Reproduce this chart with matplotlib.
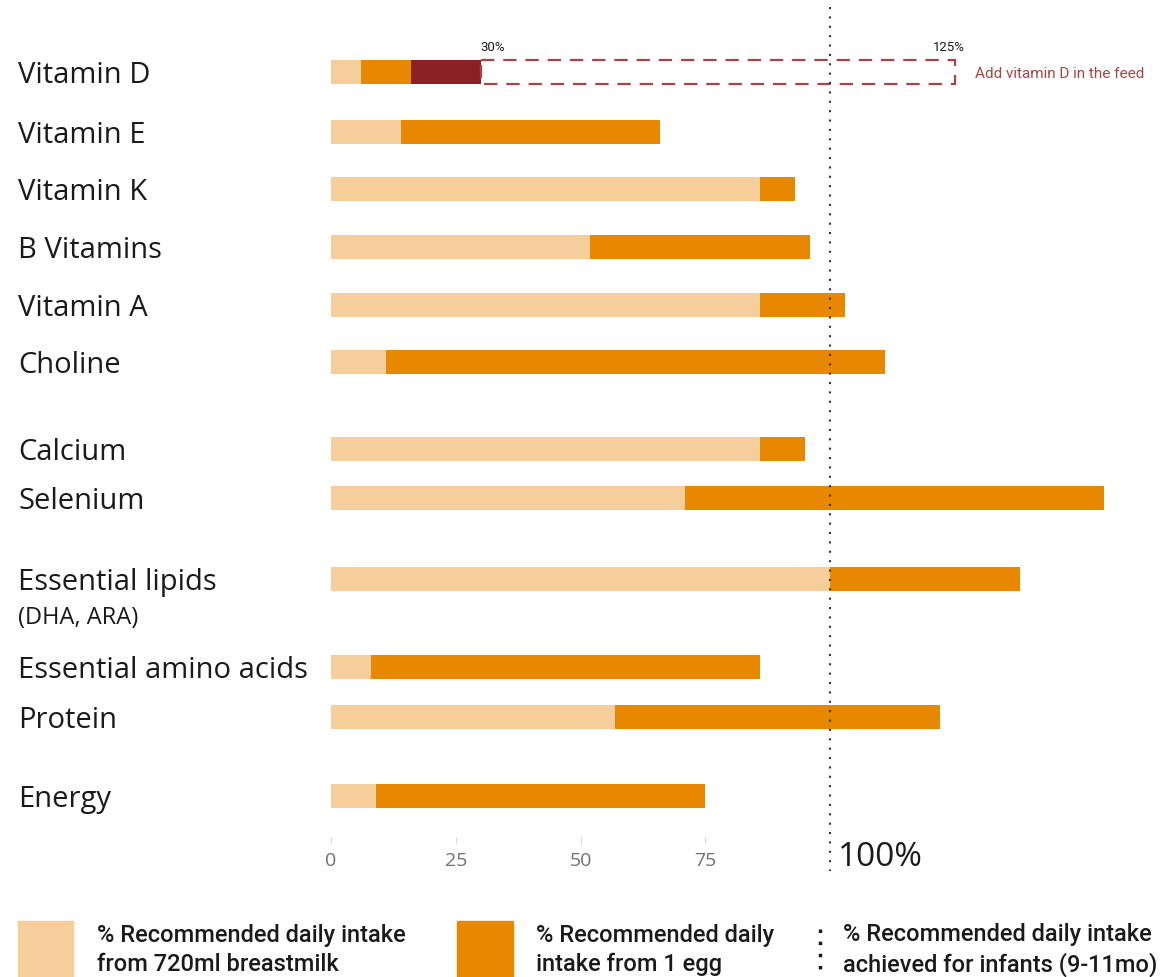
import matplotlib.pyplot as plt
from matplotlib.patches import Rectangle
from matplotlib.lines import Line2D
from matplotlib.transforms import blended_transform_factory

# % of recommended daily intake
nutrients = ["Vitamin D", "Vitamin E", "Vitamin K", "B Vitamins", "Vitamin A",
             "Choline", "Calcium", "Selenium", "Essential lipids",
             "Essential amino acids", "Protein", "Energy"]
breastmilk = [6, 14, 86, 52, 86, 11, 86, 71, 100, 8, 57, 9]
egg = [10, 52, 7, 44, 17, 100, 9, 84, 38, 78, 65, 66]
vit_d_extra = 14        # vitamin D added in the feed, bar reaches 30%
vit_d_target = 125      # end of the dashed box
ticks = [0, 25, 50, 75]

# row positions, with gaps between the groups
rows = [0, 1.04, 2.03, 3.04, 4.05, 5.04, 6.56, 7.41, 8.82, 10.35, 11.22, 12.59]

light = "#F6CE9B"
orange = "#E88800"
darkred = "#8B2124"
boxred = "#A84444"
ink = "#1a1a1a"

W, H = 1169, 978
fig = plt.figure(figsize=(W / 100, H / 100), dpi=100)
# x = 0 at 331 px, 100 at 830 px ; y = 0 at 73 px, 57.5 px per row
ppu = (830 - 331) / 100
ax = fig.add_axes([331 / W, (H - 838) / H, (1165 - 331) / W, (838 - 15) / H])
ax.set_xlim(0, (1165 - 331) / ppu)
rpu = 57.5
ax.set_ylim((838 - 73) / rpu, -(73 - 15) / rpu)

bh = 24 / rpu
ax.barh(rows, breastmilk, height=bh, color=light, linewidth=0)
ax.barh(rows, egg, left=breastmilk, height=bh, color=orange, linewidth=0)
ax.barh(rows[0], vit_d_extra, left=breastmilk[0] + egg[0], height=bh,
        color=darkred, linewidth=0)

vd_end = breastmilk[0] + egg[0] + vit_d_extra
ax.add_patch(Rectangle((vd_end, rows[0] - bh / 2), vit_d_target - vd_end, bh,
                       fill=False, edgecolor=boxred, linewidth=1.6,
                       linestyle=(0, (6, 4))))
ax.text(vd_end, rows[0] - 0.33, f"{vd_end}%", fontsize=9.5, family="Roboto",
        color=ink, ha="left", va="bottom")
ax.text(vit_d_target + 2, rows[0] - 0.33, f"{vit_d_target}%", fontsize=9.5,
        family="Roboto", color=ink, ha="right", va="bottom")
ax.text(vit_d_target + 4, rows[0] + 0.02, "Add vitamin D in the feed",
        fontsize=11, family="Roboto", color=boxred, ha="left", va="center")

# 100% reference line
tr_x = blended_transform_factory(ax.transData, fig.transFigure)
ax.add_line(Line2D([100, 100], [1 - 8 / H, 1 - 872 / H], transform=tr_x,
                   color="#333333", linewidth=1.5, linestyle=(0, (1, 3.5)),
                   clip_on=False))
ax.text(101.5, 1 - 858 / H, "100%", transform=tr_x, fontsize=24,
        family="Open Sans", color=ink, ha="left", va="center")

# category labels on the left edge
tr_y = blended_transform_factory(fig.transFigure, ax.transData)
for name, y in zip(nutrients, rows):
    ax.text(18 / W, y + 0.04, name, transform=tr_y, fontsize=21,
            family="Open Sans", color=ink, ha="left", va="center")
ax.text(18 / W, rows[8] + 0.66, "(DHA, ARA)", transform=tr_y, fontsize=17,
        family="Open Sans", color=ink, ha="left", va="center")

ax.set_xticks(ticks)
ax.set_xticklabels([str(t) for t in ticks], fontsize=14, family="Open Sans",
                   color="#707070")
ax.tick_params(axis="x", length=4, width=0.6, color="#cccccc", pad=6)
ax.set_yticks([])
for s in ax.spines.values():
    s.set_visible(False)

# legend along the bottom
fig.patches.append(Rectangle((18 / W, 0), 55 / W, 56 / H, color=light,
                             transform=fig.transFigure, figure=fig))
fig.patches.append(Rectangle((457 / W, 0), 56 / W, 56 / H, color=orange,
                             transform=fig.transFigure, figure=fig))
fig.lines.append(Line2D([820 / W, 820 / W], [1 - 930 / H, 1 - 970 / H],
                        transform=fig.transFigure, color=ink, linewidth=2.5,
                        linestyle=(0, (1, 2.5)), figure=fig))
legend_txt = [(97, "% Recommended daily intake\nfrom 720ml breastmilk"),
              (536, "% Recommended daily\nintake from 1 egg"),
              (843, "% Recommended daily intake\nachieved for infants (9-11mo)")]
for x, t in legend_txt:
    fig.text(x / W, 1 - 950 / H, t, fontsize=17, family="Roboto",
             fontweight="medium", color=ink, ha="left", va="center",
             linespacing=1.3)

fig.savefig("out.png", dpi=100)
